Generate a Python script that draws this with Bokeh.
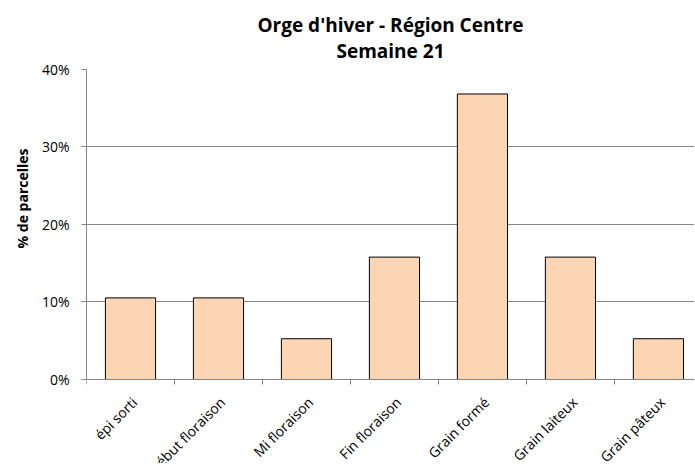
import math
from bokeh.plotting import figure
from bokeh.models import FixedTicker, Range1d, NumeralTickFormatter, ColumnDataSource, LabelSet, Title
from bokeh.core.properties import value
from bokeh.embed import file_html
from bokeh.resources import INLINE

categories = ["épi sorti", "Début floraison", "Mi floraison", "Fin floraison",
              "Grain formé", "Grain laiteux", "Grain pâteux"]
values = [0.1053, 0.1053, 0.0526, 0.1579, 0.3684, 0.1579, 0.0526]
y_ticks = [0.0, 0.1, 0.2, 0.3, 0.4]
title_lines = ["Orge d'hiver - Région Centre", "Semaine 21"]
y_title = "% de parcelles"

FONT = "Open Sans"
positions = list(range(len(categories)))
src = ColumnDataSource(dict(x=positions, top=values, cat=categories,
                            base=[0.0] * len(categories)))

p = figure(width=694, height=463, output_backend="svg", toolbar_location=None,
           x_range=Range1d(-0.5, len(categories) - 0.59), y_range=Range1d(-0.1084, 0.4),
           min_border_left=86, min_border_right=0, min_border_top=69, min_border_bottom=0)
p.outline_line_color = None
p.background_fill_color = "white"
p.border_fill_color = "white"

p.title.text = "\n".join(title_lines)
p.title.align = "center"
p.title.text_align = "center"
p.title.text_font = FONT
p.title.text_font_size = "19px"
p.title.text_font_style = "bold"
p.title.text_color = "black"
p.title.text_line_height = 1.0
p.title.standoff = 12

p.add_layout(Title(text=y_title, align="right", offset=79, text_font=FONT,
                   text_font_size="14px", text_font_style="bold", text_color="black",
                   standoff=14), "left")

p.vbar(x="x", top="top", width=0.57, source=src, fill_color="#FCD5B5",
       line_color="black", line_width=1)

# x axis placed at y = 0 inside the frame; ticks at category boundaries
p.xaxis.fixed_location = 0
p.xaxis.ticker = FixedTicker(ticks=positions, minor_ticks=[i - 0.5 for i in range(len(categories) + 1)])
p.xaxis.major_label_text_color = None
p.xaxis.major_label_text_font_size = "1px"
p.xaxis.major_tick_line_color = None
p.xaxis.minor_tick_line_color = "#868686"
p.xaxis.minor_tick_in = 0
p.xaxis.minor_tick_out = 5
p.xaxis.axis_line_color = "#868686"

labels = LabelSet(x="x", y="base", text="cat", source=src, angle=math.pi / 4,
                  text_align="right", text_baseline="middle", x_offset=4, y_offset=-20,
                  text_font=value(FONT), text_font_size=value("14px"), text_color="black")
p.add_layout(labels)

# y axis
p.yaxis.bounds = (0, 0.4)
p.yaxis.ticker = FixedTicker(ticks=y_ticks, minor_ticks=[])
p.yaxis.formatter = NumeralTickFormatter(format="0%")
p.yaxis.axis_line_color = "#868686"
p.yaxis.major_tick_line_color = "#868686"
p.yaxis.major_tick_in = 0
p.yaxis.major_tick_out = 5
p.yaxis.minor_tick_line_color = None
p.yaxis.major_label_text_font = FONT
p.yaxis.major_label_text_font_size = "14px"
p.yaxis.major_label_text_color = "black"
p.yaxis.major_label_standoff = 12

p.xgrid.grid_line_color = None
p.ygrid.ticker = FixedTicker(ticks=y_ticks)
p.ygrid.grid_line_color = "#868686"

open("out.html", "w").write(file_html(p, INLINE))
